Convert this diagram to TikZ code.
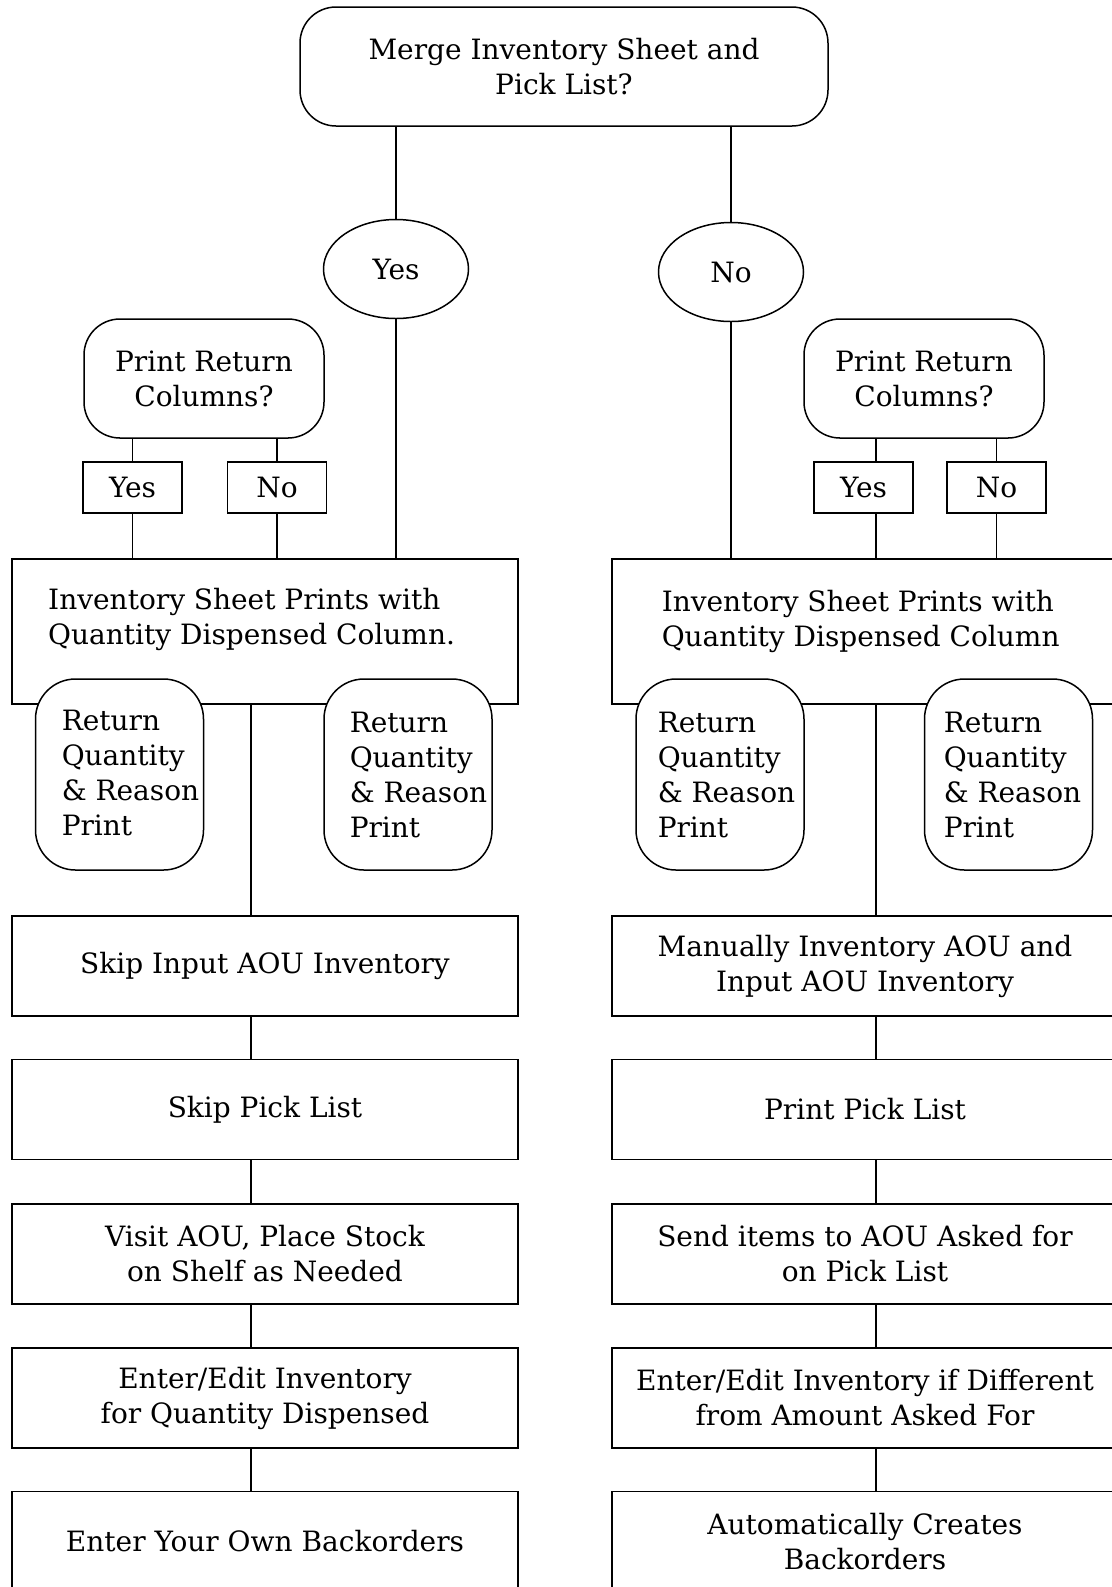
\documentclass[tikz,border=0pt]{standalone}
\usepackage{fontspec}
\setmainfont{DejaVu Serif}
\usetikzlibrary{shapes.geometric}

\begin{document}
\begin{tikzpicture}[x=0.5pt,y=-0.5pt,line width=0.75pt,
    font=\fontsize{14}{17.5}\selectfont,
    question/.style={draw,rounded corners=18pt,align=center,inner sep=0pt},
    answer/.style={draw,ellipse,minimum width=72.5pt,minimum height=49.5pt,inner sep=0pt},
    choice/.style={draw,minimum width=49.5pt,minimum height=25.5pt,inner sep=0pt},
    stepbox/.style={draw,fill=white,minimum width=253pt,minimum height=50pt,align=center,inner sep=0pt},
    retbox/.style={draw,fill=white,rounded corners=20pt,minimum width=84pt,minimum height=95.5pt},
    note/.style={align=left,anchor=west,inner sep=0pt}]

  \clip (0,0) rectangle (1112,1587);

  \coordinate (lspine) at (251,0);
  \coordinate (rspine) at (876,0);

  % top question and answers
  \node[question,minimum width=264pt,minimum height=59.5pt] (merge) at (564,66.5) {Merge Inventory Sheet and\\Pick List?};
  \node[answer] (yes) at (396,269) {Yes};
  \node[answer] (no)  at (731,272) {No};

  \begin{scope}[every node/.style={question,minimum width=120pt,minimum height=59.5pt}]
    \node (lpr) at (204,378.5) {Print Return\\Columns?};
    \node (rpr) at (924,378.5) {Print Return\\Columns?};
  \end{scope}

  \begin{scope}[every node/.style={choice}]
    \node (lyes) at (132.5,487.5) {Yes};
    \node (lno)  at (277,487.5)   {No};
    \node (ryes) at (863.5,487.5) {Yes};
    \node (rno)  at (996.5,487.5) {No};
  \end{scope}

  % inventory sheets
  \node[stepbox,minimum height=72.5pt] (linv) at (265,631.5) {};
  \node[stepbox,minimum height=72.5pt] (rinv) at (865,631.5) {};
  \node[note] (linvtxt) at (47.5,619) {Inventory Sheet Prints with\\Quantity Dispensed Column.};
  \node[note] (rinvtxt) at (661,621) {Inventory Sheet Prints with\\Quantity Dispensed Column};

  \begin{scope}[every node/.style={retbox}]
    \node (lret1) at (119.5,774.5) {};
    \node (lret2) at (408,774.5) {};
    \node (rret1) at (720,774.5) {};
    \node (rret2) at (1008.5,774.5) {};
  \end{scope}
  \begin{scope}[every node/.style={note}]
    \node (lret1txt) at (61,772.5)  {Return\\Quantity\\\& Reason\\Print};
    \node (lret2txt) at (349,775)   {Return\\Quantity\\\& Reason\\Print};
    \node (rret1txt) at (657,775)   {Return\\Quantity\\\& Reason\\Print};
    \node (rret2txt) at (943,775)   {Return\\Quantity\\\& Reason\\Print};
  \end{scope}

  % steps
  \begin{scope}[every node/.style={stepbox}]
    \node (l1) at (265,966)    {Skip Input AOU Inventory};
    \node (l2) at (265,1109.5) {Skip Pick List};
    \node (l3) at (265,1254)   {Visit AOU, Place Stock\\on Shelf as Needed};
    \node (l4) at (265,1398)   {Enter/Edit Inventory\\for Quantity Dispensed};
    \node (l5) at (265,1541.5) {Enter Your Own Backorders};
    \node (r1) at (865,966)    {Manually Inventory AOU and\\Input AOU Inventory};
    \node (r2) at (865,1109.5) {Print Pick List};
    \node (r3) at (865,1254)   {Send items to AOU Asked for\\on Pick List};
    \node (r4) at (865,1398)   {Enter/Edit Inventory if Different\\from Amount Asked For};
    \node (r5) at (865,1541.5) {Automatically Creates\\Backorders};
  \end{scope}

  % connectors
  \path (merge.south -| yes) edge (yes);
  \path (merge.south -| no)  edge (no);
  \path (yes) edge (yes |- linv.north);
  \path (no)  edge (no |- rinv.north);

  \path (lpr.south -| lyes) edge (lyes);
  \path (lpr.south -| lno)  edge (lno);
  \path (lyes) edge (lyes |- linv.north);
  \path (lno)  edge (lno |- linv.north);
  \path (rpr.south -| rspine) edge (ryes.north -| rspine);
  \path (rpr.south -| rno)    edge (rno);
  \path (ryes.south -| rspine) edge (rinv.north -| rspine);
  \path (rno)  edge (rno |- rinv.north);

  \path (linv.south -| lspine) edge (l1.north -| lspine);
  \path (l1.south -| lspine) edge (l2.north -| lspine);
  \path (l2.south -| lspine) edge (l3.north -| lspine);
  \path (l3.south -| lspine) edge (l4.north -| lspine);
  \path (l4.south -| lspine) edge (l5.north -| lspine);

  \path (rinv.south -| rspine) edge (r1.north -| rspine);
  \path (r1.south -| rspine) edge (r2.north -| rspine);
  \path (r2.south -| rspine) edge (r3.north -| rspine);
  \path (r3.south -| rspine) edge (r4.north -| rspine);
  \path (r4.south -| rspine) edge (r5.north -| rspine);

\end{tikzpicture}
\end{document}
